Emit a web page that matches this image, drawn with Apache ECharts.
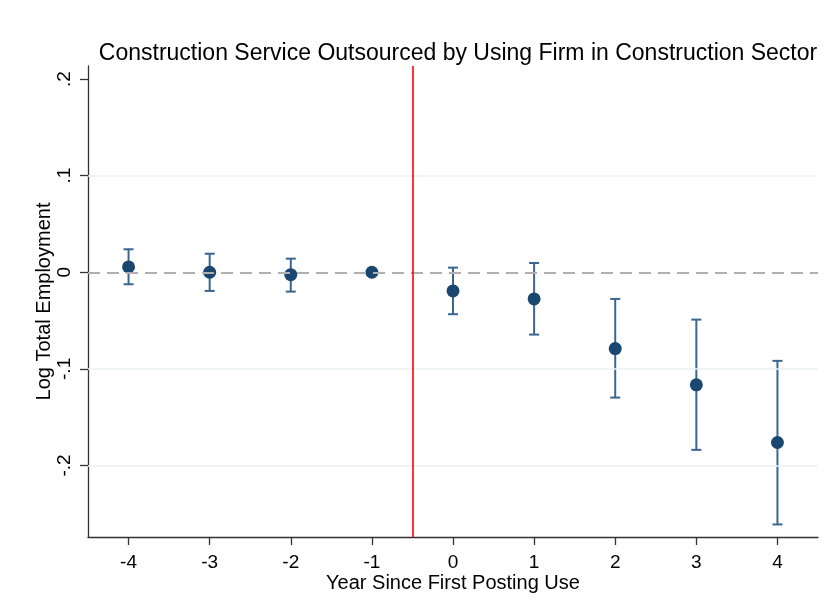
<!DOCTYPE html>
<html>
<head>
<meta charset="utf-8">
<script src="https://cdn.jsdelivr.net/npm/echarts@6/dist/echarts.min.js"></script>
<style>html,body{margin:0;padding:0;background:#fff;}#c{width:833px;height:614px;}</style>
</head>
<body>
<div id="c"></div>
<script>
var years = [-4, -3, -2, -1, 0, 1, 2, 3, 4];
var coef = [0.0055, 0.0, -0.0025, 0.0, -0.0193, -0.0276, -0.079, -0.1165, -0.1762];
var ciLow = [-0.0124, -0.0193, -0.0200, 0.0, -0.0434, -0.0645, -0.1297, -0.1838, -0.2610];
var ciHigh = [0.0238, 0.0192, 0.0141, 0.0, 0.0048, 0.0096, -0.0276, -0.0490, -0.0917];
var yTicks = [-0.2, -0.1, 0, 0.1, 0.2];
var yTickLabels = ['-.2', '-.1', '0', '.1', '.2'];
var xTicks = [-4, -3, -2, -1, 0, 1, 2, 3, 4];
var eventLine = -0.5;
var gridVals = [-0.2, -0.1, 0.1];

var FONT = 'Liberation Sans, Arial, sans-serif';
var chart = echarts.init(document.getElementById('c'), null, {renderer: 'canvas'});

var pts = years.map(function (y, i) { return [y, coef[i]]; });
var bars = years.map(function (y, i) { return [y, ciLow[i], ciHigh[i]]; });

var option = {
  backgroundColor: '#ffffff',
  animation: false,
  title: {
    text: 'Construction Service Outsourced by Using Firm in Construction Sector',
    left: 453, top: 37, textAlign: 'center',
    textStyle: {fontFamily: FONT, fontSize: 23, fontWeight: 'normal', color: '#000'}
  },
  grid: {left: 88, right: 15, top: 66, bottom: 77, containLabel: false},
  xAxis: {
    type: 'value', min: -4.5, max: 4.5,
    name: 'Year Since First Posting Use', nameLocation: 'middle', nameGap: 36, nameMoveOverlap: false,
    nameTextStyle: {fontFamily: FONT, fontSize: 20, color: '#000'},
    axisLine: {show: true, onZero: false, lineStyle: {color: '#333', width: 1.3}},
    axisTick: {show: true, length: 8, customValues: xTicks, lineStyle: {color: '#333', width: 1.3}},
    axisLabel: {customValues: xTicks, fontFamily: FONT, fontSize: 19, color: '#000', margin: 16,
      formatter: function (v) { return String(v); }},
    splitLine: {show: false}
  },
  yAxis: {
    type: 'value', min: -0.274, max: 0.2135,
    name: 'Log Total Employment', nameLocation: 'middle', nameGap: 34, nameRotate: 90, nameMoveOverlap: false,
    nameTextStyle: {fontFamily: FONT, fontSize: 20, color: '#000'},
    axisLine: {show: true, onZero: false, lineStyle: {color: '#333', width: 1.3}},
    axisTick: {show: true, length: 8, customValues: yTicks, lineStyle: {color: '#333', width: 1.3}},
    axisLabel: {customValues: yTicks, rotate: 90, fontFamily: FONT, fontSize: 19, color: '#000', margin: 14,
      formatter: function (v) {
        var i = yTicks.findIndex(function (t) { return Math.abs(t - v) < 1e-6; });
        return i >= 0 ? yTickLabels[i] : '';
      }},
    splitLine: {show: false}
  },
  series: [
    {
      type: 'line', data: [], silent: true,
      markLine: {
        symbol: 'none', silent: true, label: {show: false},
        data: gridVals.map(function (v) { return {yAxis: v, lineStyle: {color: '#eaf2f3', width: 1.5, type: 'solid'}}; })
          .concat([{yAxis: 0, lineStyle: {color: '#b0b0b0', width: 2, type: [12, 7]}}])
          .concat([{xAxis: eventLine, lineStyle: {color: '#ff0000', width: 1.6, type: 'solid'}}])
      }
    },
    {
      type: 'custom', data: bars, z: 3,
      renderItem: function (params, api) {
        var x = api.value(0), lo = api.value(1), hi = api.value(2);
        if (lo === hi) return null;
        var p1 = api.coord([x, lo]), p2 = api.coord([x, hi]);
        var w = 5;
        var st = {stroke: '#3a6591', lineWidth: 2};
        return {type: 'group', children: [
          {type: 'line', shape: {x1: p1[0], y1: p1[1], x2: p2[0], y2: p2[1]}, style: st},
          {type: 'line', shape: {x1: p1[0] - w, y1: p1[1], x2: p1[0] + w, y2: p1[1]}, style: st},
          {type: 'line', shape: {x1: p2[0] - w, y1: p2[1], x2: p2[0] + w, y2: p2[1]}, style: st}
        ]};
      }
    },
    {
      type: 'scatter', data: pts, z: 4, symbol: 'circle', symbolSize: 13,
      itemStyle: {color: '#1a476f', opacity: 1}
    }
  ]
};
chart.setOption(option);
</script>
</body>
</html>
